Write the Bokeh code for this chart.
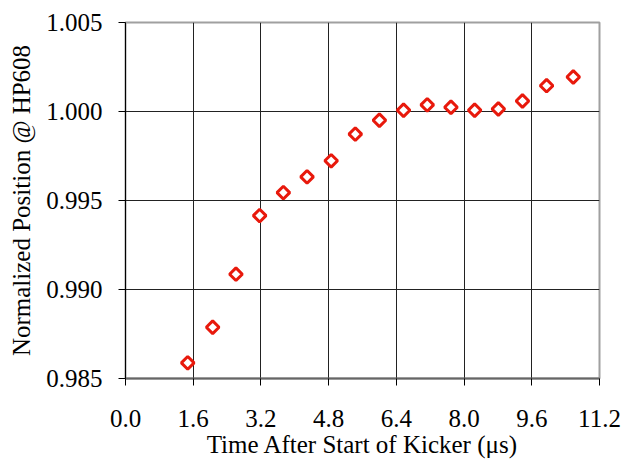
import math
from bokeh.plotting import figure
from bokeh.models import FixedTicker, Range1d
from bokeh.embed import file_html
from bokeh.resources import INLINE

time_us = [1.47, 2.06, 2.61, 3.17, 3.73, 4.29, 4.86, 5.43, 6.00, 6.57,
           7.13, 7.69, 8.25, 8.81, 9.38, 9.95, 10.58]
position = [0.98588, 0.98788, 0.99086, 0.99415, 0.99544, 0.99633, 0.99723,
            0.99873, 0.99951, 1.00007, 1.00037, 1.00024, 1.00007, 1.00014,
            1.00059, 1.00145, 1.00194]
x_ticks = [0.0, 1.6, 3.2, 4.8, 6.4, 8.0, 9.6, 11.2]
y_ticks = [0.985, 0.990, 0.995, 1.000, 1.005]

FONT = "Liberation Serif"

p = figure(width=623, height=460, output_backend="svg", toolbar_location=None,
           x_range=Range1d(0, 11.2), y_range=Range1d(0.985, 1.005),
           min_border_left=125, min_border_right=24, min_border_top=22,
           min_border_bottom=81)

p.scatter(time_us, position, marker="square", size=9, angle=math.pi / 4,
          fill_color="white", line_color="#e8190c", line_width=3)

p.xaxis.ticker = FixedTicker(ticks=x_ticks)
p.yaxis.ticker = FixedTicker(ticks=y_ticks)
p.xaxis.major_label_overrides = {t: f"{t:.1f}" for t in x_ticks}
p.yaxis.major_label_overrides = {t: f"{t:.3f}" for t in y_ticks}

for ax in (p.xaxis, p.yaxis):
    ax.major_label_text_font = FONT
    ax.major_label_text_font_size = "25px"
    ax.major_label_text_color = "black"
    ax.axis_label_text_font = FONT
    ax.axis_label_text_font_size = "25px"
    ax.axis_label_text_font_style = "normal"
    ax.axis_label_text_color = "black"
    ax.minor_tick_line_color = None
    ax.major_tick_in = 0
    ax.major_tick_out = 7
    ax.major_tick_line_color = "black"

p.xaxis.axis_label = "Time After Start of Kicker (\u03bcs)"
p.yaxis.axis_label = "Normalized Position @ HP608"
p.xaxis.major_label_standoff = 24
p.xaxis.axis_label_standoff = 1
p.yaxis.major_label_standoff = 16
p.yaxis.axis_label_standoff = 8

p.xaxis.axis_line_color = "#666666"
p.xaxis.axis_line_width = 2
p.yaxis.axis_line_color = "black"
p.yaxis.axis_line_width = 1

p.xgrid.ticker = FixedTicker(ticks=x_ticks)
p.ygrid.ticker = FixedTicker(ticks=y_ticks)
p.grid.grid_line_color = "#222222"
p.grid.grid_line_width = 1
p.grid.grid_line_alpha = 1.0

p.outline_line_color = "#a0a0a0"
p.outline_line_width = 2
p.background_fill_color = "white"
p.border_fill_color = "white"

open("out.html", "w").write(file_html(p, INLINE))
